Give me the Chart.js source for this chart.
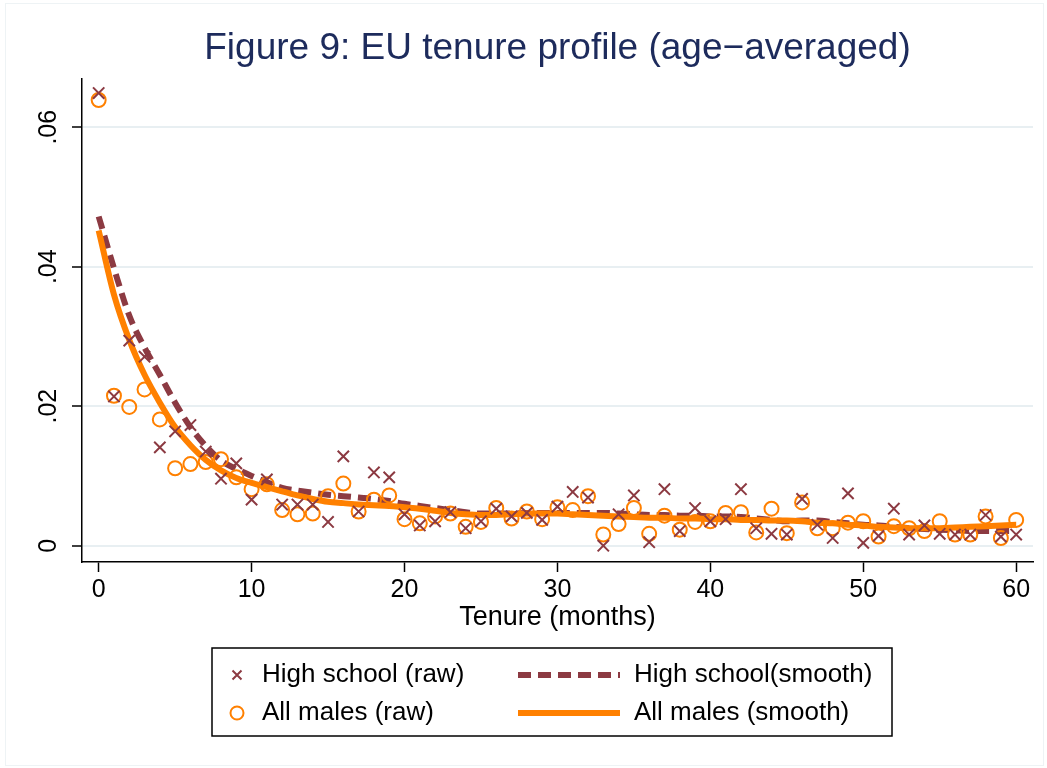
<!DOCTYPE html>
<html>
<head>
<meta charset="utf-8">
<script src="https://cdn.jsdelivr.net/npm/chart.js@4.4.0/dist/chart.umd.min.js"></script>
<style>
    html, body { margin: 0; padding: 0; background: #fff; }
    #wrap { position: relative; width: 1047px; height: 768px; }
    #frame { position: absolute; left: 5px; top: 3px; right: 3px; bottom: 2px; border: 1px solid #eef3f5; }
</style>
</head>
<body>
<div id="wrap">
    <div id="frame"></div>
    <canvas id="tenure_chart" width="1047" height="768"></canvas>
</div>
<script>
// tenure in months
const tenure = [
    0, 1, 2, 3, 4, 5, 6, 7, 8, 9,
    10, 11, 12, 13, 14, 15, 16, 17, 18, 19,
    20, 21, 22, 23, 24, 25, 26, 27, 28, 29,
    30, 31, 32, 33, 34, 35, 36, 37, 38, 39,
    40, 41, 42, 43, 44, 45, 46, 47, 48, 49,
    50, 51, 52, 53, 54, 55, 56, 57, 58, 59, 60
];
const highSchoolRaw = [
    .0649, .0214, .0294, .0271, .0141, .0164, .0173, .0135, .0096, .0118,
    .0066, .0095, .0059, .0059, .0059, .0034, .0128, .0049, .0105, .0098,
    .0045, .0029, .0035, .0048, .0025, .0035, .0053, .0042, .0047, .0037,
    .0056, .0077, .0069, .0000, .0045, .0072, .0005, .0081, .0021, .0054,
    .0035, .0038, .0081, .0025, .0017, .0016, .0067, .0030, .0011, .0075,
    .0004, .0014, .0053, .0016, .0029, .0017, .0016, .0016, .0044, .0013, .0016
];
const allMalesRaw = [
    .0639, .0215, .0199, .0224, .0181, .0111, .0117, .0120, .0124, .0098,
    .0081, .0088, .0051, .0045, .0046, .0071, .0089, .0049, .0066, .0072,
    .0038, .0032, .0042, .0046, .0027, .0034, .0054, .0039, .0049, .0038,
    .0055, .0051, .0071, .0016, .0031, .0054, .0017, .0043, .0023, .0034,
    .0035, .0047, .0048, .0019, .0053, .0018, .0062, .0025, .0025, .0033,
    .0035, .0013, .0028, .0025, .0021, .0035, .0016, .0016, .0042, .0011, .0037
];
const highSchoolSmooth = [
    .0472, .0398, .0330, .0284, .0245, .0205, .0170, .0143, .0122, .0110,
    .0100, .0091, .0083, .0079, .0076, .0073, .0071, .0069, .0067, .0064,
    .0060, .0057, .0054, .0051, .0048, .0046, .0046, .0046, .0047, .0047,
    .0047, .0047, .0047, .0047, .0046, .0045, .0044, .0044, .0043, .0043,
    .0042, .0042, .0041, .0039, .0037, .0035, .0036, .0036, .0034, .0032,
    .0030, .0029, .0027, .0025, .0024, .0023, .0022, .0021, .0021, .0021, .0021
];
const allMalesSmooth = [
    .0452, .0360, .0295, .0245, .0205, .0170, .0144, .0123, .0108, .0097,
    .0090, .0084, .0078, .0072, .0067, .0063, .0061, .0059, .0058, .0057,
    .0055, .0053, .0050, .0047, .0045, .0044, .0044, .0045, .0046, .0046,
    .0046, .0045, .0044, .0043, .0042, .0041, .0040, .0040, .0039, .0039,
    .0038, .0038, .0037, .0037, .0036, .0036, .0035, .0033, .0032, .0030,
    .0029, .0027, .0026, .0025, .0025, .0025, .0026, .0027, .0028, .0029, .0030
];
const xTicks = [0, 10, 20, 30, 40, 50, 60];
const yTicks = [0, .02, .04, .06];

const maroon = '#8c3a42';
const orange = '#ff8000';
const font = "'Liberation Sans', Arial, sans-serif";

const pts = (ys) => tenure.map((t, i) => ({x: t, y: ys[i]}));

// legend drawn as a framed 2x2 box under the axis title
const legendBox = {
    id: 'legendBox',
    afterDraw(chart) {
        const ctx = chart.ctx;
        const ds = chart.data.datasets;
        const items = [ds[0], ds[2], ds[1], ds[3]];
        const left = 212, top = 648, right = 892, bottom = 736;
        ctx.save();
        ctx.strokeStyle = '#000';
        ctx.lineWidth = 1.5;
        ctx.strokeRect(left, top, right - left, bottom - top);
        ctx.font = '26px ' + font;
        ctx.textBaseline = 'middle';
        items.forEach((d, i) => {
            const col = i % 2, row = Math.floor(i / 2);
            const y = 675 + row * 38;
            ctx.strokeStyle = d.borderColor;
            if (col === 0) {
                ctx.lineWidth = d.borderWidth;
                ctx.beginPath();
                if (d.pointStyle === 'crossRot') {
                    const r = 4.5;
                    ctx.moveTo(237 - r, y - r); ctx.lineTo(237 + r, y + r);
                    ctx.moveTo(237 + r, y - r); ctx.lineTo(237 - r, y + r);
                } else {
                    ctx.arc(237, y, 6.5, 0, Math.PI * 2);
                }
                ctx.stroke();
                ctx.fillStyle = '#000';
                ctx.fillText(d.label, 262, y);
            } else {
                ctx.lineWidth = d.borderWidth;
                ctx.setLineDash(d.borderDash || []);
                ctx.beginPath();
                ctx.moveTo(518, y);
                ctx.lineTo(620, y);
                ctx.stroke();
                ctx.setLineDash([]);
                ctx.fillStyle = '#000';
                ctx.fillText(d.label, 634, y);
            }
        });
        ctx.restore();
    }
};

const ctx = document.getElementById('tenure_chart').getContext('2d');
const tenureChart = new Chart(ctx, {
    type: 'scatter',
    data: {
        datasets: [{
            label: 'High school (raw)',
            data: pts(highSchoolRaw),
            showLine: false,
            pointStyle: 'crossRot',
            pointRadius: 8,
            borderWidth: 2,
            borderColor: maroon,
            backgroundColor: maroon,
            order: 1
        }, {
            label: 'All males (raw)',
            data: pts(allMalesRaw),
            showLine: false,
            pointStyle: 'circle',
            pointRadius: 7,
            borderWidth: 2,
            borderColor: orange,
            backgroundColor: 'rgba(0,0,0,0)',
            order: 2
        }, {
            label: 'High school(smooth)',
            data: pts(highSchoolSmooth),
            showLine: true,
            pointRadius: 0,
            borderWidth: 6,
            borderDash: [13, 7],
            borderColor: maroon,
            cubicInterpolationMode: 'monotone',
            order: 4
        }, {
            label: 'All males (smooth)',
            data: pts(allMalesSmooth),
            showLine: true,
            pointRadius: 0,
            borderWidth: 6,
            borderColor: orange,
            cubicInterpolationMode: 'monotone',
            order: 3
        }]
    },
    options: {
        responsive: false,
        animation: false,
        layout: {
            padding: {left: 0, right: 14, top: 0, bottom: 134}
        },
        scales: {
            x: {
                type: 'linear',
                min: -1.09,
                max: 61.1,
                afterBuildTicks: (s) => { s.ticks = xTicks.map(v => ({value: v})); },
                afterFit: (s) => { s.height = 72; },
                grid: {drawOnChartArea: false, drawTicks: true, tickLength: 10, tickColor: '#000', tickWidth: 1.5},
                border: {display: true, color: '#000', width: 1.5},
                ticks: {color: '#000', padding: 3, font: {family: font, size: 25}, maxRotation: 0},
                title: {display: true, text: 'Tenure (months)', color: '#000', padding: {top: 0, bottom: 0}, font: {family: font, size: 27}}
            },
            y: {
                min: -0.00234,
                max: 0.067,
                afterBuildTicks: (s) => { s.ticks = yTicks.map(v => ({value: v})); },
                afterFit: (s) => { s.width = 82; },
                grid: {color: '#e8eff2', lineWidth: 2, drawTicks: true, tickLength: 10, tickColor: '#000', tickWidth: 1.5},
                border: {display: true, color: '#000', width: 1.5},
                ticks: {
                    color: '#000',
                    padding: 6,
                    minRotation: 90,
                    maxRotation: 90,
                    crossAlign: 'center',
                    font: {family: font, size: 25},
                    callback: (v) => v === 0 ? '0' : v.toFixed(2).replace(/^0/, '')
                }
            }
        },
        plugins: {
            legend: {display: false},
            tooltip: {enabled: false},
            title: {
                display: true,
                fullSize: false,
                text: 'Figure 9: EU tenure profile (age\u2212averaged)',
                color: '#1d2b5c',
                font: {family: font, size: 37, weight: 'normal'},
                padding: {top: 27, bottom: 7}
            }
        }
    },
    plugins: [legendBox]
});
</script>
</body>
</html>
